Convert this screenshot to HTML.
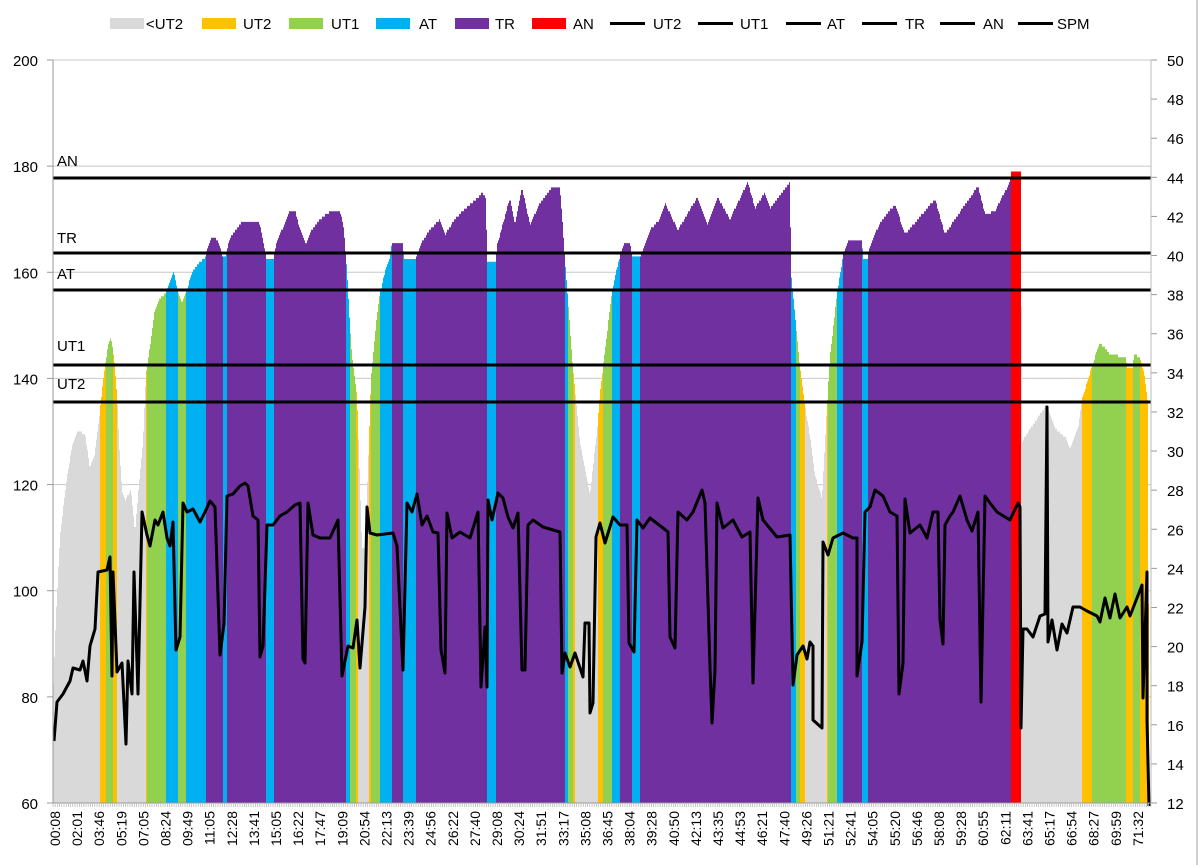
<!DOCTYPE html>
<html><head><meta charset="utf-8"><style>
html,body{margin:0;padding:0;background:#fff;}
svg{display:block;font-family:"Liberation Sans",sans-serif;}
</style></head><body>
<svg id="s" width="1200" height="865" xmlns="http://www.w3.org/2000/svg">
<rect x="0" y="0" width="1200" height="865" fill="#fff"/>
<line x1="1197" y1="0" x2="1197" y2="865" stroke="#d0d0d0" stroke-width="2"/>
<g id="grid"></g>
<g id="bars"></g>
<g id="zl"></g>
<g id="spm"></g>
<g id="ax"></g>
<g id="leg"></g>
</svg>
<script>
var NS="http://www.w3.org/2000/svg";
function el(p,t,a,txt){var e=document.createElementNS(NS,t);for(var k in a)e.setAttribute(k,a[k]);if(txt!==undefined)e.textContent=txt;document.getElementById(p).appendChild(e);return e;}
function yL(v){return 803-(v-60)*743/140;}
var L=53,R=1151;
// grid
for(var v=60;v<=200;v+=20){var y=yL(v);el("grid","line",{x1:L,y1:y,x2:R,y2:y,stroke:"#c8c8c8","stroke-width":1});
el("ax","line",{x1:L-6,y1:y,x2:L,y2:y,stroke:"#999"});
el("ax","text",{x:38,y:y+6,"font-size":15,"text-anchor":"end",fill:"#000"},v);}
for(var s=12;s<=50;s+=2){var y=803-(s-12)*743/38;el("ax","line",{x1:R,y1:y,x2:R+6,y2:y,stroke:"#999"});
el("ax","text",{x:1167,y:y+6,"font-size":15,fill:"#000"},s);}
el("ax","line",{x1:L,y1:60,x2:L,y2:803,stroke:"#999"});
el("ax","line",{x1:R,y1:60,x2:R,y2:803,stroke:"#bbb"});
el("ax","line",{x1:L,y1:803,x2:R,y2:803,stroke:"#999"});
for(var x=L;x<=R;x+=2.2){el("ax","line",{x1:x,y1:803,x2:x,y2:807,stroke:"#bbb","stroke-width":0.8});}
var labs="00:08 02:01 03:46 05:19 07:05 08:24 09:49 11:05 12:28 13:41 15:05 16:22 17:47 19:09 20:54 22:13 23:39 24:56 26:22 27:40 29:08 30:24 31:51 33:17 35:08 36:45 38:04 39:28 40:50 42:13 43:35 44:53 46:21 47:40 49:26 51:21 52:41 54:05 55:20 56:46 58:08 59:28 60:55 62:11 63:41 65:17 66:54 68:27 69:59 71:32".split(" ");
labs.forEach(function(t,i){var x=55+i*22.1;el("ax","text",{x:0,y:0,"font-size":14,"text-anchor":"end",transform:"translate("+(x+5)+",811) rotate(-90)",fill:"#000"},t);});
// HR
var hr=[[53,80],[56,95],[60,110],[66,120],[72,127],[78,130],[85,129.6],[90,123],[95,126],[100,134],[104,141],[108,146],[111,147.8],[114,144],[117,137],[119,128],[122,119],[125,117],[128,118],[131,119],[135,111],[139,120],[143,128],[146,140.6],[150,146],[155,153],[160,155],[166,156],[170,158],[174,160],[178,156],[182,154],[186,156],[192,160],[200,162],[205,162.7],[209,165.5],[213,166.8],[217,166],[221,164],[222,163],[226,163],[228,165],[232,167],[238,168.5],[243,169.7],[259,169.7],[265,164],[266,162.7],[274,162.7],[276,165],[282,168],[290,171.7],[295,171.7],[300,168],[306,165],[312,168],[320,170],[332,171.7],[340,171.7],[344,168],[347,160],[350,150],[352,144],[357,137],[360,120],[362,108],[365,108],[367,118],[369,128],[371,140],[376,150],[380,156],[385,160],[390,163],[392,165.7],[403,165.7],[404,162.5],[416,162.5],[420,165],[430,168],[440,170],[445,167],[455,170],[465,172],[478,174],[482,175],[486,174],[487,162],[496,162],[497,165],[510,174],[515,169],[522,176],[530,169],[540,173],[552,176],[560,176],[563,168],[565,162],[568,155],[572,144],[575,138],[580,128],[585,123],[590,118],[594,125],[597,130],[600,137],[603,142],[608,150],[612,156],[616,160],[620,163],[624,165.5],[630,165.5],[632,163],[641,163],[650,168],[660,170],[665,173],[678,168],[697,174],[707,169],[718,174],[730,170],[748,177],[755,172],[765,175],[770,172],[790,177],[791,160],[795,152],[800,142],[804,136],[810,129],[815,122],[818,119.8],[822,117.4],[827,134.5],[830,144],[837,155.8],[843,163],[848,166],[862,166],[863,162.7],[868,162.7],[870,165],[880,169.3],[895,172.8],[905,167.2],[918,170],[935,173.8],[945,167.2],[955,170],[978,176.2],[985,170.9],[995,171.5],[1010,177],[1011,178.8],[1021,178.8],[1022,128],[1030,130.5],[1045,134.5],[1046,135],[1055,130.5],[1065,129],[1070,127],[1078,130.5],[1082,136],[1092,142.3],[1100,146.8],[1110,144.5],[1126,144],[1127,142],[1133,142],[1134,144.5],[1140,144],[1144,141],[1148,135.4],[1149,60]];
function hrAt(x){for(var i=1;i<hr.length;i++){if(x<=hr[i][0]){var a=hr[i-1],b=hr[i];return a[1]+(b[1]-a[1])*(x-a[0])/(b[0]-a[0]);}}return 60;}
var G="#d9d9d9",O="#ffc000",Gr="#92d050",B="#00b0f0",P="#7030a0",Rd="#ff0000";
var seg=[[53,100,G],[100,106,O],[106,113,Gr],[113,117,O],[117,146,G],[146,147,O],[147,166,Gr],[166,178,B],[178,186,Gr],[186,206,B],[206,223,P],[223,227,B],[227,266,P],[266,274,B],[274,346,P],[346,350,B],[350,356,Gr],[356,358,O],[358,369,G],[369,371,O],[371,380,Gr],[380,392,B],[392,403,P],[403,416,B],[416,487,P],[487,496,B],[496,565,P],[565,568,B],[568,573,Gr],[573,575,O],[575,598,G],[598,603,O],[603,612,Gr],[612,620,B],[620,632,P],[632,640,B],[640,791,P],[791,796,B],[796,800,Gr],[800,805,O],[805,827,G],[827,828,O],[828,837,Gr],[837,843,B],[843,862,P],[862,868,B],[868,1011,P],[1011,1021,Rd],[1021,1082,G],[1082,1092,O],[1092,1126,Gr],[1126,1133,O],[1133,1140,Gr],[1140,1149,O]];
seg.forEach(function(s){var d="M"+s[0]+",803";for(var x=s[0];x<s[1];x++){var y=yL(Math.round(hrAt(x+0.5)*2)/2);d+="L"+x+","+y.toFixed(1)+"L"+(x+1)+","+y.toFixed(1);}d+="L"+s[1]+",803Z";el("bars","path",{d:d,fill:s[2]});});
// zone lines
[[178,"AN",160],[253,"TR",237],[290,"AT",273],[365,"UT1",345],[402,"UT2",383]].forEach(function(z){el("zl","line",{x1:L,y1:z[0],x2:R,y2:z[0],stroke:"#000","stroke-width":3});el("zl","text",{x:57,y:z[2]+6,"font-size":15,fill:"#000"},z[1]);});
// SPM
var sp=[[54,741],[57,702],[63,694],[70,681],[73,668],[80,670],[83,661],[87,681],[90,646],[95,629],[98,572],[107,570],[110,557],[112,676],[113,572],[117,672],[122,663],[126,744],[128,661],[132,694],[134,572],[138,694],[142,512],[147,535],[150,546],[155,520],[158,525],[163,512],[167,538],[170,546],[173,522],[176,650],[180,637],[183,503],[187,512],[193,509],[200,522],[205,512],[210,501],[215,507],[220,655],[224,624],[227,496],[233,494],[240,486],[245,483],[248,486],[253,516],[258,520],[260,657],[263,646],[267,525],[273,525],[280,516],[287,512],[295,505],[300,503],[303,659],[305,663],[308,503],[313,535],[320,538],[330,538],[338,520],[342,676],[348,646],[353,648],[357,620],[360,668],[365,607],[367,507],[370,533],[377,535],[393,533],[397,546],[403,670],[407,503],[412,512],[417,494],[422,525],[427,516],[433,532],[438,533],[441,650],[445,673],[447,513],[452,538],[460,532],[470,538],[478,512],[481,687],[485,627],[487,687],[488,500],[492,520],[498,493],[503,498],[508,517],[513,528],[518,513],[522,670],[525,670],[528,525],[533,520],[543,527],[560,532],[562,673],[565,653],[570,667],[575,653],[583,677],[585,623],[589,623],[590,713],[593,703],[596,537],[600,523],[605,543],[613,517],[620,525],[627,525],[629,643],[634,652],[637,520],[643,528],[650,518],[663,528],[668,532],[670,637],[675,648],[678,512],[687,520],[693,512],[702,490],[705,503],[710,667],[712,723],[715,670],[717,503],[723,528],[733,520],[742,537],[750,532],[753,683],[758,498],[763,520],[777,537],[790,535],[793,685],[797,655],[803,646],[807,659],[810,642],[813,646],[813,720],[822,728],[823,542],[828,555],[833,538],[843,533],[853,538],[857,538],[857,676],[862,642],[865,512],[870,507],[875,490],[883,496],[890,512],[897,516],[899,694],[903,663],[905,499],[910,533],[920,525],[927,538],[933,512],[938,512],[940,620],[943,644],[945,525],[950,516],[953,512],[960,496],[967,520],[972,531],[978,512],[981,702],[985,496],[990,503],[997,512],[1010,520],[1018,503],[1020,507],[1021,728],[1023,629],[1027,629],[1033,637],[1040,616],[1045,614],[1047,407],[1048,642],[1052,620],[1057,650],[1062,624],[1067,633],[1073,607],[1080,607],[1087,611],[1097,616],[1100,622],[1105,598],[1110,618],[1115,594],[1120,618],[1127,607],[1130,616],[1137,598],[1142,585],[1143,698],[1147,572],[1147,720],[1149,806]];
el("spm","polyline",{points:sp.map(function(p){return p.join(",");}).join(" "),fill:"none",stroke:"#000","stroke-width":3,"stroke-linejoin":"round"});
// legend
[[110,"<UT2",G,146],[202,"UT2",O,243],[289,"UT1",Gr,331],[376,"AT",B,419],[455,"TR",P,495],[532,"AN",Rd,573]].forEach(function(l){el("leg","rect",{x:l[0],y:18,width:34,height:11,fill:l[2]});el("leg","text",{x:l[3],y:29,"font-size":15,fill:"#000"},l[1]);});
[[610,"UT2",653],[698,"UT1",740],[786,"AT",827],[862,"TR",905],[940,"AN",983],[1018,"SPM",1057]].forEach(function(l){el("leg","line",{x1:l[0],y1:23.5,x2:l[0]+35,y2:23.5,stroke:"#000","stroke-width":3});el("leg","text",{x:l[2],y:29,"font-size":15,fill:"#000"},l[1]);});
</script>
</body></html>
